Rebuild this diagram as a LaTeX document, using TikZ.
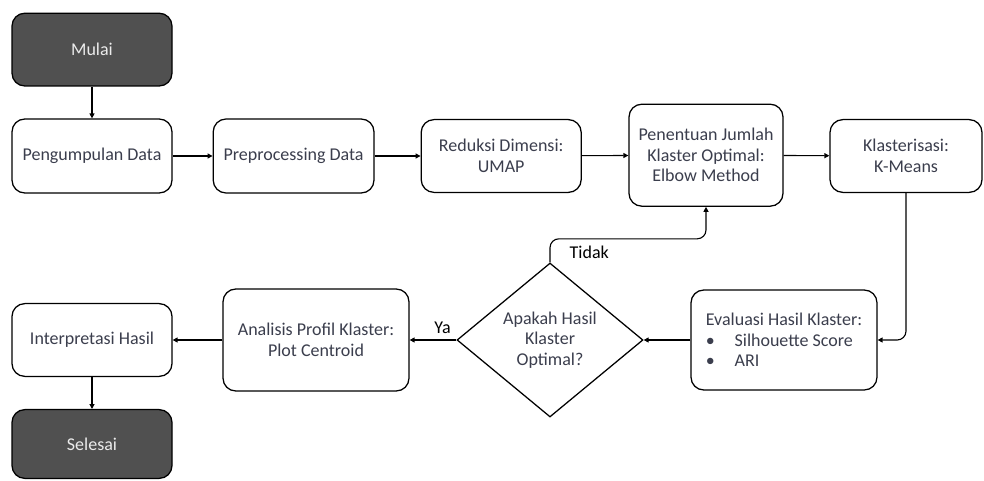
\documentclass[tikz,border=0pt]{standalone}
\usepackage{fontspec}
\setmainfont{Carlito}
\usetikzlibrary{arrows.meta,shapes.geometric,positioning,calc}
\definecolor{inkslate}{HTML}{3B3E4D}
\definecolor{termfill}{HTML}{505050}
\tikzset{
  proc/.style={
    draw,
    line width = 0.9pt,
    rounded corners = 0.32cm,
    fill = white,
    text = inkslate,
    align = center,
    inner sep = 2pt,
    font = \fontsize{12.8}{14.5}\selectfont
  },
  term/.style={
    proc,
    fill = termfill,
    text = white!92!black
  },
  decide/.style={
    draw,
    shape = diamond,
    line width = 0.9pt,
    text = inkslate,
    align = center,
    inner sep = 0pt,
    minimum width = 4.65cm,
    minimum height = 3.85cm,
    font = \fontsize{12.8}{14.5}\selectfont
  },
  flow/.style={
    -{Triangle[length=3.5pt,width=3.5pt]},
    line width = 0.8pt,
    rounded corners = 0.22cm
  },
  answer/.style={
    font = \fontsize{12.8}{14.5}\selectfont,
    inner sep = 1pt
  }
}

\begin{document}
\begin{tikzpicture}
  \useasboundingbox (0,0) rectangle (24.6,12);
  % top row
  \node[term, minimum width=4cm, minimum height=1.82cm] (start) at (2.3,10.76) {Mulai};
  \node[proc, minimum width=4cm, minimum height=1.85cm] (collect) at (2.3,8.1) {Pengumpulan Data};
  \node[proc, minimum width=4.02cm, minimum height=1.85cm] (prep) at (7.34,8.1) {Preprocessing Data};
  \node[proc, minimum width=4cm, minimum height=1.82cm] (umap) at (12.53,8.1) {Reduksi Dimensi:\\UMAP};
  \node[proc, minimum width=3.85cm, minimum height=2.55cm] (elbow) at (17.65,8.12) {Penentuan Jumlah\\Klaster Optimal:\\Elbow Method};
  \node[proc, minimum width=3.8cm, minimum height=1.82cm] (kmeans) at (22.65,8.1) {Klasterisasi:\\K-Means};
  % bottom row
  \node[proc, minimum width=4.65cm, minimum height=2.5cm, align=left] (eval) at (19.6,3.5)
    {Evaluasi Hasil Klaster:\\\textbullet\hspace{1.1em}Silhouette Score\\\textbullet\hspace{1.1em}ARI};
  \node[decide] (optimal) at (13.75,3.5) {Apakah Hasil\\Klaster\\Optimal?};
  \node[proc, minimum width=4.65cm, minimum height=2.55cm] (profile) at (7.9,3.5) {Analisis Profil Klaster:\\Plot Centroid};
  \node[proc, minimum width=4cm, minimum height=1.82cm] (interp) at (2.3,3.5) {Interpretasi Hasil};
  \node[term, minimum width=4cm, minimum height=1.72cm] (finish) at (2.3,0.9) {Selesai};

  \draw[flow] (start) -- (collect);
  \draw[flow] (collect) -- (prep);
  \draw[flow] (prep) -- (umap);
  \draw[flow] (umap) -- (elbow);
  \draw[flow] (elbow) -- (kmeans);
  \draw[flow] (kmeans.south) |- (eval.east);
  \draw[flow] (eval) -- (optimal);
  \draw[flow] (optimal.north) |- ($(elbow.south)+(0,-0.8)$) -- (elbow.south);
  \draw[flow] (optimal) -- (profile);
  \draw[flow] (profile) -- (interp);
  \draw[flow] (interp) -- (finish);

  \node[answer, anchor=south west] (no) at ([xshift=0.45cm,yshift=0.05cm]optimal.north) {Tidak};
  \node[answer, anchor=south east] (yes) at ([xshift=-0.1cm,yshift=0.12cm]optimal.west) {Ya};
\end{tikzpicture}
\end{document}
